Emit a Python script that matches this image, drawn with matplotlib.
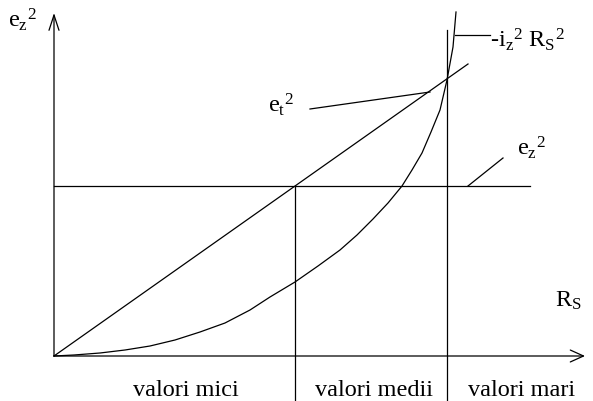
import matplotlib

matplotlib.use("Agg")
import matplotlib.pyplot as plt

# working-point sketch: noise terms vs. source resistance R_S
curve_rs = [0, 20, 46, 71, 96, 121, 146, 171, 196, 216, 241, 264, 286, 303,
            319, 334, 348, 358, 368, 377, 386, 393, 399, 402]
curve_noise = [0, 1, 3, 6, 10, 16, 24, 33, 46, 59, 74, 90, 106, 121,
               137, 153, 170, 186, 203, 224, 246, 276, 309, 344]

thermal_rs = [0, 414]
thermal_noise = [0, 292]

ez_level = 170
ez_span = [0, 476]

bound_low = 241
bound_high = 393
bound_high_top = 326

region_labels = ["valori mici", "valori medii", "valori mari"]
region_centers = [132, 320, 468]

plt.rcParams["font.family"] = ["Liberation Serif", "DejaVu Serif"]
plt.rcParams["mathtext.fontset"] = "custom"
plt.rcParams["mathtext.rm"] = "Liberation Serif"
plt.rcParams["mathtext.it"] = "Liberation Serif"

fig = plt.figure(figsize=(5.93, 4.01), dpi=100)
ax = fig.add_axes([0, 0, 1, 1])
ax.set_xlim(-54, 539)
ax.set_ylim(-45, 356)
ax.axis("off")

lw = 0.9
ink = "black"

# axes with open arrow heads
ax.annotate("", xy=(0, 343), xytext=(0, 0),
            arrowprops=dict(arrowstyle="->,head_length=1.1,head_width=0.36",
                            lw=lw, color=ink, shrinkA=0, shrinkB=0,
                            mutation_scale=10))
ax.annotate("", xy=(531, 0), xytext=(0, 0),
            arrowprops=dict(arrowstyle="->,head_length=0.95,head_width=0.43",
                            lw=lw, color=ink, shrinkA=0, shrinkB=0,
                            mutation_scale=10))

ax.plot(curve_rs, curve_noise, color=ink, lw=lw)
ax.plot(thermal_rs, thermal_noise, color=ink, lw=lw)
ax.plot(ez_span, [ez_level, ez_level], color=ink, lw=lw)

ax.plot([bound_low, bound_low], [ez_level, -45], color=ink, lw=lw)
ax.plot([bound_high, bound_high], [bound_high_top, -45], color=ink, lw=lw)

# leader lines for the labels
ax.plot([256, 376], [247, 264], color=ink, lw=lw)
ax.plot([414, 449], [170, 198], color=ink, lw=lw)
ax.plot([401, 436], [321, 321], color=ink, lw=lw)

fs = 17.5
ax.text(-46, 329, r"$\mathrm{e_z{}^2}$", fontsize=fs, ha="left", va="baseline")
ax.text(214, 244, r"$\mathrm{e_t{}^2}$", fontsize=fs, ha="left", va="baseline")
ax.text(463, 201, r"$\mathrm{e_z{}^2}$", fontsize=fs, ha="left", va="baseline")
ax.text(436, 309, r"-$\mathrm{i_z{}^2\ R_S{}^2}$", fontsize=fs,
        ha="left", va="baseline")
ax.text(501, 49, r"$\mathrm{R_S}$", fontsize=fs, ha="left", va="baseline")

for label, xc in zip(region_labels, region_centers):
    ax.text(xc, -40, label, fontsize=fs, ha="center", va="baseline")

fig.savefig("out.png", dpi=100)
